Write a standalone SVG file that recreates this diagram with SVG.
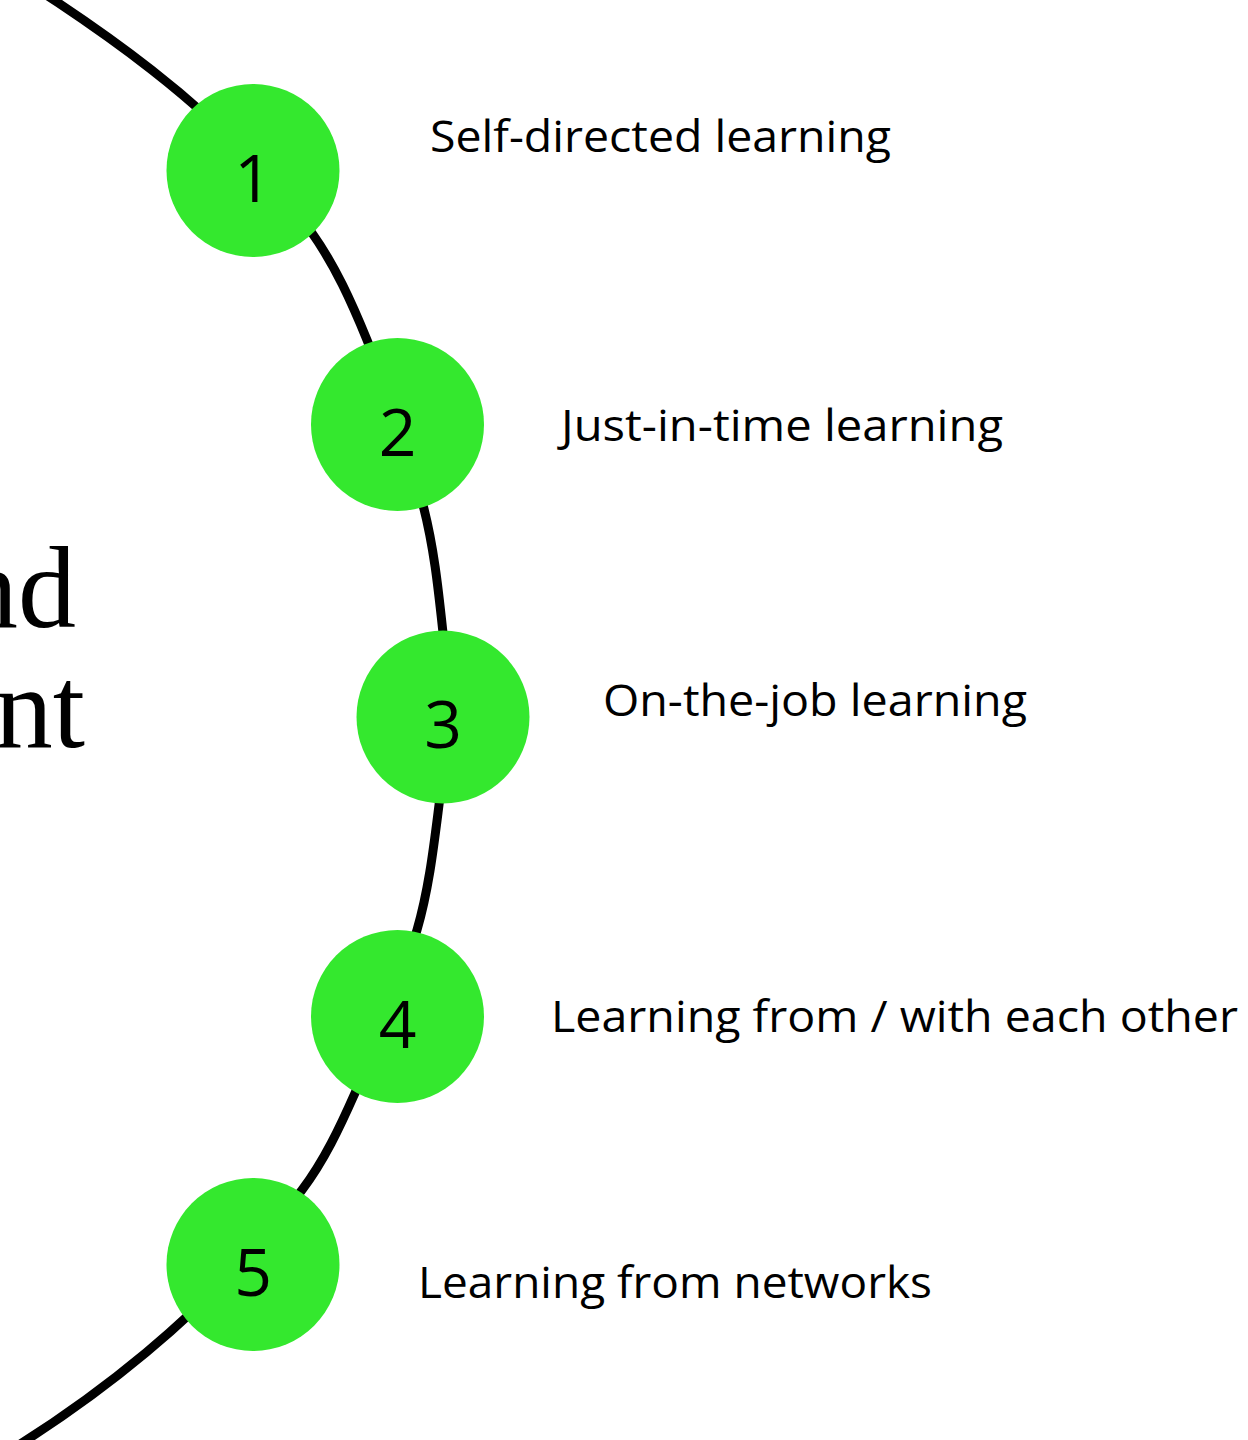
<svg xmlns="http://www.w3.org/2000/svg" width="1248" height="1440" viewBox="0 0 1248 1440">
  <style>
    .arc { fill: none; stroke: #000000; stroke-width: 9; stroke-linecap: butt; }
    .step circle { fill: #34e82e; }
    .num { font-family: "Open Sans", Lato, "DejaVu Sans", sans-serif; font-size: 66px; fill: #000000; text-anchor: middle; }
    .label { font-family: "Open Sans", Lato, "DejaVu Sans", sans-serif; font-size: 43px; fill: #000000; }
    .title { font-family: "Liberation Serif", "DejaVu Serif", serif; font-size: 116px; fill: #000000; text-anchor: end; }
  </style>
  <rect x="0" y="0" width="1248" height="1440" fill="#ffffff"/>

  <!-- title, running off the left edge -->
  <g id="title">
    <text class="title" x="76" y="627">nd</text>
    <text class="title" x="85" y="747">nt</text>
  </g>

  <!-- the big curved line linking the steps -->
  <g id="connectors">
    <path class="arc" d="M -40 -60
      C 90 21 224 108 312 233
      C 335.2 265.7 351.8 302.9 367 340
      C 389 393.8 408.3 448.8 423 505
      C 433.7 545.8 438.2 588.1 442.7 630
      C 445.6 656.5 445.6 683.3 445 710
      C 444.3 741.7 443 773.6 439 805
      C 433.7 847 428.8 889.4 417 930
      C 400.7 985.8 378.5 1039.8 355 1093
      C 340.1 1126.7 324.2 1160.7 302 1190
      C 212 1310 90 1407 -40 1480"/>
  </g>

  <g id="step1" class="step">
    <circle cx="253" cy="170.5" r="86.5"/>
    <text class="num" x="253" y="201.5">1</text>
    <text class="label" x="430" y="152" textLength="461" lengthAdjust="spacingAndGlyphs">Self-directed learning</text>
  </g>

  <g id="step2" class="step">
    <circle cx="397.5" cy="424.5" r="86.5"/>
    <text class="num" x="397.5" y="455.5">2</text>
    <text class="label" x="561" y="441" textLength="442" lengthAdjust="spacingAndGlyphs">Just-in-time learning</text>
  </g>

  <g id="step3" class="step">
    <circle cx="443" cy="717" r="86.5"/>
    <text class="num" x="443" y="748">3</text>
    <text class="label" x="603" y="716" textLength="424" lengthAdjust="spacingAndGlyphs">On-the-job learning</text>
  </g>

  <g id="step4" class="step">
    <circle cx="397.5" cy="1016.5" r="86.5"/>
    <text class="num" x="397.5" y="1047.5">4</text>
    <text class="label" x="551" y="1032" textLength="687" lengthAdjust="spacingAndGlyphs">Learning from / with each other</text>
  </g>

  <g id="step5" class="step">
    <circle cx="253" cy="1264.5" r="86.5"/>
    <text class="num" x="253" y="1295.5">5</text>
    <text class="label" x="418" y="1298" textLength="514" lengthAdjust="spacingAndGlyphs">Learning from networks</text>
  </g>
</svg>
